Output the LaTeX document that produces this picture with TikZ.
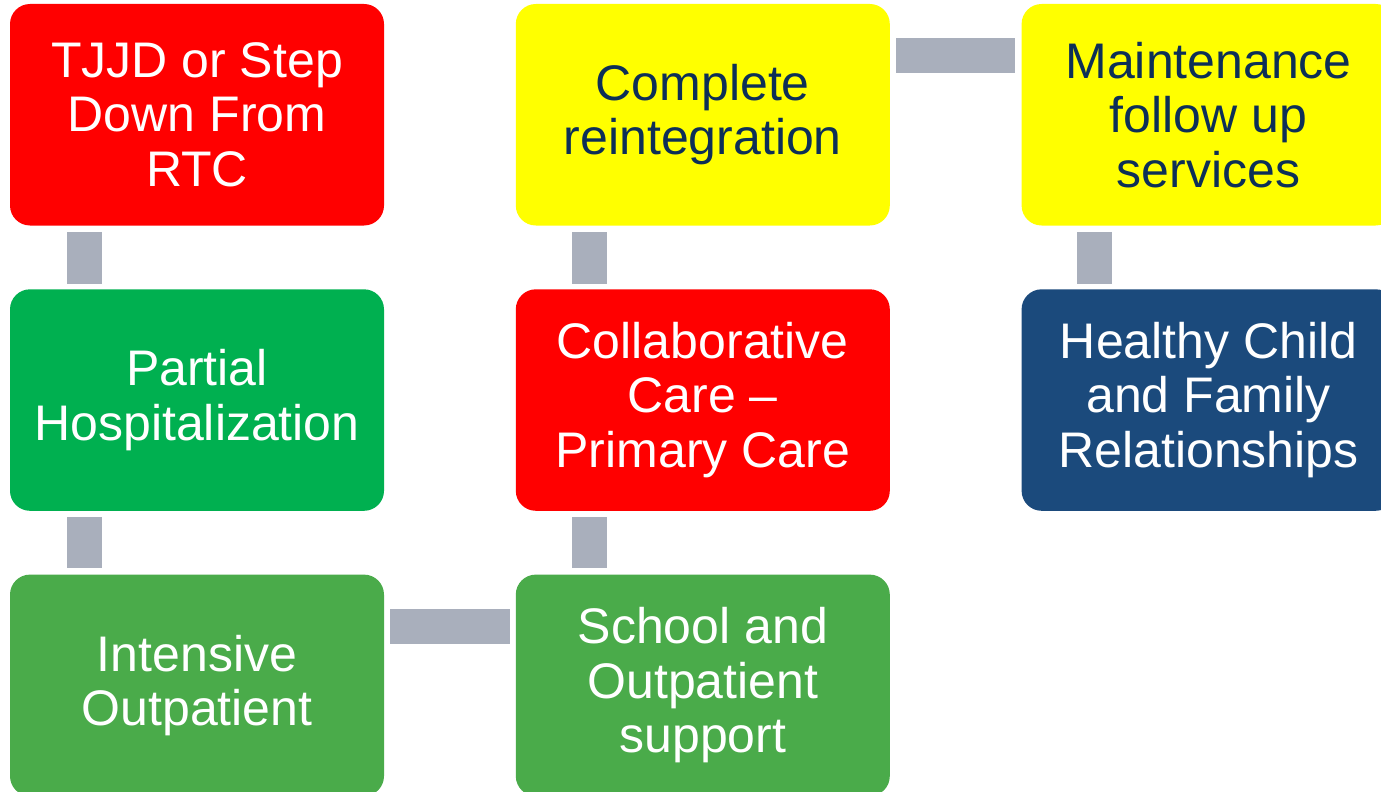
\documentclass[tikz,border=0pt]{standalone}
\usepackage{fontspec}
\setmainfont{Liberation Sans}
\usepackage{tikz}
\usetikzlibrary{positioning, calc}
\definecolor{stepred}{HTML}{FF0000}
\definecolor{partgreen}{HTML}{00B050}
\definecolor{outgreen}{HTML}{4AAB4A}
\definecolor{stepyellow}{HTML}{FFFF00}
\definecolor{boxnavy}{HTML}{1B4A7C}
\definecolor{textnavy}{HTML}{0D2F57}
\definecolor{bargray}{HTML}{A9AFBC}
\tikzset{
  box/.style={rectangle, rounded corners=10pt, minimum width=187pt, minimum height=110.75pt,
    inner sep=0pt, align=center, text=white, font=\fontsize{25}{27.2}\selectfont},
  link/.style={draw=bargray, line width=17.5pt},
}

\begin{document}
\begin{tikzpicture}[x=0.5pt, y=-0.5pt, node distance=31.5pt and 65.5pt]
  \clip (0,0) rectangle (1381,792);
  \node[box, fill=stepred] (tjjd) at (197,114.75) {TJJD or Step\\Down From\\RTC};
  \node[box, fill=partgreen, below=of tjjd] (partial) {Partial\\Hospitalization};
  \node[box, fill=outgreen, below=of partial] (iop) {Intensive\\Outpatient};
  \node[box, fill=outgreen, right=of iop] (school) {School and\\Outpatient\\support};
  \node[box, fill=stepred, right=of partial] (collab) {Collaborative\\Care --\\Primary Care};
  \node[box, fill=stepyellow, text=textnavy, right=of tjjd] (reint) {Complete\\reintegration};
  \node[box, fill=stepyellow, text=textnavy, right=of reint] (maint) {Maintenance\\follow up\\services};
  \node[box, fill=boxnavy, below=of maint] (healthy) {Healthy Child\\and Family\\Relationships};

  % gray connectors
  \draw[link] ($(tjjd.south west)+(74.5,6)$) -- ($(partial.north west)+(74.5,-5)$);
  \draw[link] ($(partial.south west)+(74.5,6)$) -- ($(iop.north west)+(74.5,-6)$);
  \draw[link] ($(iop.north east)+(6,52.5)$) -- ($(school.north west)+(-5,52.5)$);
  \draw[link] ($(school.north west)+(74.5,-6)$) -- ($(collab.south west)+(74.5,6)$);
  \draw[link] ($(collab.north west)+(74.5,-5)$) -- ($(reint.south west)+(74.5,6)$);
  \draw[link] ($(reint.north east)+(6,52)$) -- ($(maint.north west)+(-6,52)$);
  \draw[link] ($(maint.south west)+(73.5,6)$) -- ($(healthy.north west)+(73.5,-5)$);
\end{tikzpicture}
\end{document}
